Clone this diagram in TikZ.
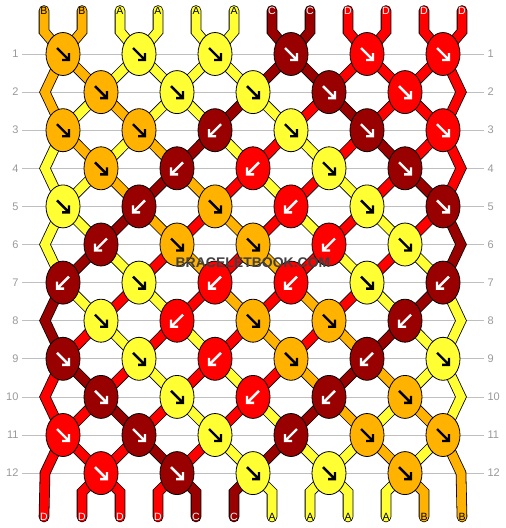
\documentclass[tikz,border=0pt]{standalone}
\usepackage{fontspec}
\setmainfont{Liberation Sans}
\usetikzlibrary{shapes.geometric,backgrounds}

\definecolor{colA}{RGB}{255,255,51}
\definecolor{colB}{RGB}{255,178,0}
\definecolor{colC}{RGB}{153,0,0}
\definecolor{colD}{RGB}{255,0,0}
\colorlet{arrA}{black}
\colorlet{arrB}{black}
\colorlet{arrC}{white}
\colorlet{arrD}{white}

\tikzset{
  strand/.style={double=col#1,double distance=9pt,line width=0.8pt,line cap=round},
  knot/.style={ellipse,draw,line width=0.8pt,fill=col#1,minimum width=34pt,minimum height=43pt,inner sep=0pt},
  rowno/.style={text=gray!80,font=\fontsize{11}{11}\selectfont},
  rowline/.style={gray!50,line width=0.8pt},
  endlabel/.style={text=arr#1,font=\fontsize{10.5}{10.5}\selectfont,inner sep=0pt},
  dirf/.pic={\draw[line width=2.4pt] (-6,-6) -- (6,6) (6,-1) -- (6,6) -- (-1,6);},
  dirb/.pic={\draw[line width=2.4pt] (6,-6) -- (-6,6) (-6,-1) -- (-6,6) -- (1,6);},
}

\begin{document}
\begin{tikzpicture}[x=1pt,y=-1pt]
\useasboundingbox (0,0) rectangle (506,528);

% knots row by row (f = forward, b = backward)
\foreach \r/\row in {1/{B/f,A/f,A/f,C/f,D/f,D/f},
                     2/{B/f,A/f,A/f,C/f,D/f},
                     3/{B/f,B/f,C/b,A/f,C/f,D/f},
                     4/{B/f,C/b,D/b,A/f,C/f},
                     5/{A/f,C/b,B/f,D/b,A/f,C/f},
                     6/{C/b,B/f,B/f,D/b,A/f},
                     7/{C/b,A/f,D/b,D/b,A/f,C/b},
                     8/{A/f,D/b,B/f,B/f,C/b},
                     9/{C/f,A/f,D/b,B/f,C/b,A/f},
                     10/{C/f,A/f,D/b,C/b,B/f},
                     11/{D/f,C/f,A/f,C/b,B/f,B/f},
                     12/{D/f,C/f,A/f,A/f,B/f}} {
  \pgfmathsetmacro\yy{54+38.1*(\r-1)}
  \pgfmathsetmacro\xs{isodd(\r) ? 63 : 101}
  \foreach \c/\d [count=\k] in \row {
    \node[knot=\c] (k-\r-\k) at ({\xs+76*(\k-1)},\yy) {};
    \pic[color=arr\c] at (k-\r-\k) {dir\d};
  }
  \ifodd\r\relax\else
    \coordinate (le-\r) at (45,\yy);
    \coordinate (re-\r) at (461,\yy);
  \fi
}

\begin{pgfonlayer}{background}
% row numbers and guide lines
\foreach \r in {1,...,12} {
  \pgfmathsetmacro\yy{54+38.1*(\r-1)}
  \node[rowno,anchor=east] (ll-\r) at (22,\yy) {\r};
  \node[rowno,anchor=west] (rl-\r) at (484,\yy) {\r};
  \draw[rowline] (ll-\r) -- (rl-\r);
}

% strings: colours of the 12 positions after each row
\foreach \r/\sr in {0/{B,B,A,A,A,A,C,C,D,D,D,D},
                    1/{B,B,A,A,A,A,C,C,D,D,D,D},
                    2/{B,A,B,A,A,C,A,D,C,D,D,D},
                    3/{A,B,A,B,C,A,D,A,D,C,D,D},
                    4/{A,A,B,C,B,D,A,D,A,D,C,D},
                    5/{A,A,C,B,D,B,D,A,D,A,D,C},
                    6/{A,C,A,D,B,D,B,D,A,D,A,C},
                    7/{C,A,D,A,D,B,D,B,D,A,C,A},
                    8/{C,D,A,D,A,D,B,D,B,C,A,A},
                    9/{D,C,D,A,D,A,D,B,C,B,A,A},
                    10/{D,D,C,D,A,D,A,C,B,A,B,A},
                    11/{D,D,D,C,D,A,C,A,A,B,A,B},
                    12/{D,D,D,D,C,C,A,A,A,A,B,B}} {
  \foreach \c [count=\p] in \sr {
    \pgfmathtruncatemacro\xp{44+38*(\p-1)}
    \pgfmathtruncatemacro\ka{isodd(\r) ? int((\p+1)/2) : int(\p/2)}
    \pgfmathtruncatemacro\kb{isodd(\r+1) ? int((\p+1)/2) : int(\p/2)}
    \pgfmathtruncatemacro\ra{\r-1}
    \pgfmathtruncatemacro\rb{\r+1}
    \pgfmathtruncatemacro\edge{(\p==1)||(\p==12)}
    \ifnum\r=0
      \coordinate (top-\p) at (\xp,10.5);
      \draw[strand=\c] (top-\p) -- ++(0,21) -- (k-1-\kb.center);
      \node[endlabel=\c] (tl-\p) at (top-\p) {\c};
    \else\ifnum\r=12
      \coordinate (bot-\p) at (\xp,517);
      \ifnum\edge=0
        \draw[strand=\c] (k-12-\ka.center) -- (\xp,492) -- (bot-\p);
      \else\ifnum\p=1
        \draw[strand=\c] (k-11-1.center) -- (le-12) -- (bot-\p);
      \else
        \draw[strand=\c] (k-11-6.center) -- (re-12) -- (bot-\p);
      \fi\fi
      \node[endlabel=\c] (bl-\p) at (bot-\p) {\c};
    \else
      \ifnum\edge=0
        \draw[strand=\c] (k-\r-\ka.center) -- (k-\rb-\kb.center);
      \else
        \ifodd\r\relax\else
          \ifnum\p=1
            \draw[strand=\c] (k-\ra-1.center) -- (le-\r) -- (k-\rb-1.center);
          \else
            \draw[strand=\c] (k-\ra-6.center) -- (re-\r) -- (k-\rb-6.center);
          \fi
        \fi
      \fi
    \fi\fi
  }
}
\end{pgfonlayer}

\node[font=\bfseries\fontsize{14}{14}\selectfont,text=black!75] (wm) at (253,263) {BRACELETBOOK.COM};
\end{tikzpicture}
\end{document}
